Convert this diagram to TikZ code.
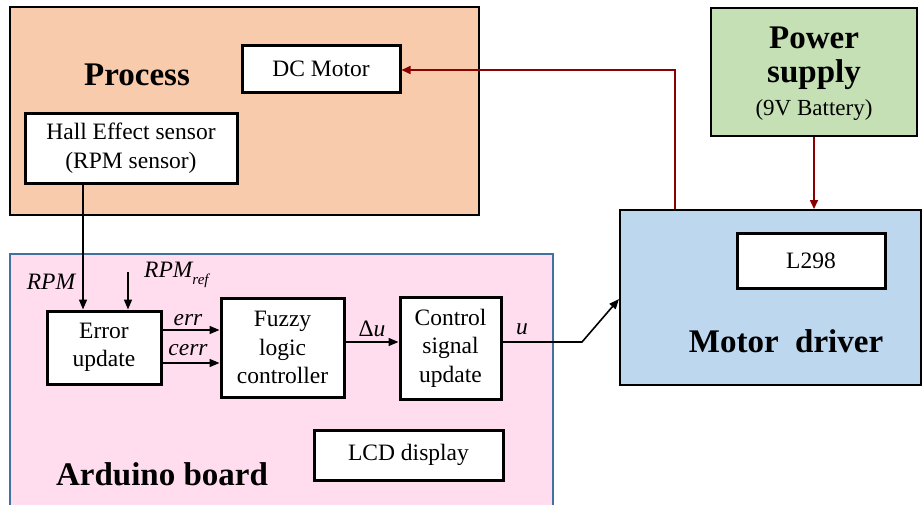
\documentclass[tikz,border=0pt]{standalone}
\usepackage{fontspec}
\setmainfont{Liberation Serif}
\usetikzlibrary{arrows.meta}
\definecolor{procfill}{HTML}{F8CBAD}
\definecolor{ardfill}{HTML}{FFDDEE}
\definecolor{ardline}{HTML}{41719C}
\definecolor{mdfill}{HTML}{BDD7EE}
\definecolor{psfill}{HTML}{C5E0B4}
\definecolor{darkred}{HTML}{8B0000}
\tikzset{
  big/.style={draw=black,line width=2pt,inner sep=0pt},
  blk/.style={draw=black,fill=white,line width=3pt,inner sep=0pt,align=center,
    font=\fontsize{23.5}{28.5}\selectfont},
  title/.style={font=\fontsize{33}{36}\selectfont\bfseries,inner sep=0pt},
  lbl/.style={font=\fontsize{23.5}{26}\selectfont\itshape,inner sep=0pt},
  arr/.style={line width=1.6pt,-{Triangle[length=10pt,width=8pt]}},
  redarr/.style={draw=darkred,line width=1.6pt,-{Triangle[length=9pt,width=8pt]}},
}
\begin{document}
\begin{tikzpicture}[x=1pt,y=-1pt]
\useasboundingbox (0,0) rectangle (922,504);
% outer blocks
\node[big,fill=procfill,minimum width=469pt,minimum height=208pt] (proc) at (244.5,111) {};
\node[big,draw=ardline,fill=ardfill,minimum width=543pt,minimum height=270pt] (ard) at (281.5,389) {};
\node[big,fill=mdfill,minimum width=301pt,minimum height=175pt] (md) at (770.5,297.5) {};
\node[big,fill=psfill,minimum width=206pt,minimum height=128pt] (ps) at (814,72) {};
% titles
\node[title] (tproc) at (137,75) {Process};
\node[title] (tard) at (162,474) {Arduino board};
\node[title] (tmd) at (786,341) {Motor\ \ driver};
\node[title] (tpow) at (814,38) {Power};
\node[title] (tsup) at (814,75) {supply};
\node[font=\fontsize{23}{26}\selectfont,inner sep=0pt] (tbat) at (814,110) {(9V Battery)};
% inner blocks
\node[blk,minimum width=158pt,minimum height=47pt] (dcm) at (321,68.5) {DC Motor};
\node[blk,minimum width=212pt,minimum height=70pt] (hall) at (131,148) {Hall Effect sensor\\(RPM sensor)};
\node[blk,minimum width=114pt,minimum height=73pt] (eu) at (104,347.5) {Error\\update};
\node[blk,minimum width=123pt,minimum height=99pt] (flc) at (282.5,347.5) {Fuzzy\\logic\\controller};
\node[blk,minimum width=101pt,minimum height=102pt] (csu) at (450.5,348) {Control\\signal\\update};
\node[blk,minimum width=189pt,minimum height=50pt] (lcd) at (408.5,455) {LCD display};
\node[blk,minimum width=148pt,minimum height=55pt] (l298) at (811,260.5) {L298};
% helper coordinates
\coordinate (xrpm) at (83,0);
\coordinate (refstart) at (128,272);
\coordinate (yerr) at (0,330);
\coordinate (ycerr) at (0,363);
\coordinate (yu) at (0,342);
\coordinate (ubend) at (582,342);
\coordinate (yin) at (0,299);
\coordinate (xred) at (675,0);
\coordinate (redcorner) at (675,70);
% labels
\node[lbl] (lrpm) at (51,282) {RPM};
\node[lbl,anchor=west] (lref) at (144,275) {RPM\raisebox{-7pt}{\fontsize{15}{15}\selectfont ref}};
\node[lbl] (lerr) at (188,320) {err};
\node[lbl] (lcerr) at (188,350) {cerr};
\node[font=\fontsize{23.5}{26}\selectfont,inner sep=0pt] (ldu) at (372,329) {Δ\textit{u}};
\node[lbl] (lu) at (522,329) {u};
% connectors
\draw[arr] (hall.south -| xrpm) -- (eu.north -| xrpm);
\draw[arr] (refstart) -- (eu.north -| refstart);
\draw[arr] (eu.east |- yerr) -- (flc.west |- yerr);
\draw[arr] (eu.east |- ycerr) -- (flc.west |- ycerr);
\draw[arr] (flc.east |- yu) -- (csu.west |- yu);
\draw[arr] (csu.east |- yu) -- (ubend) -- (md.west |- yin);
\draw[redarr] (md.north -| xred) -- (redcorner) -- (dcm.east |- redcorner);
\draw[redarr] (ps.south) -- (md.north -| ps.south);
\end{tikzpicture}
\end{document}
